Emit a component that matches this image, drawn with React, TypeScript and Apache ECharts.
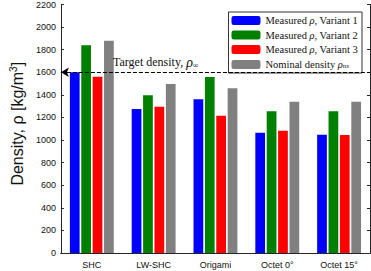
import React, { useEffect, useRef } from "react";
import * as echarts from "echarts";

const categories = ["SHC", "LW-SHC", "Origami", "Octet 0°", "Octet 15°"];
const variant1 = [1600, 1275, 1362, 1065, 1047];
const variant2 = [1840, 1397, 1558, 1256, 1256];
const variant3 = [1560, 1294, 1215, 1083, 1045];
const nominal = [1880, 1496, 1458, 1338, 1338];
const targetDensity = 1600;
const seriesNames = [
  "Measured ρ, Variant 1",
  "Measured ρ, Variant 2",
  "Measured ρ, Variant 3",
  "Nominal density ρns",
];
const colors = ["#0000ff", "#008000", "#ff0000", "#808080"];

const AX = "#262626";
const SERIF = "'Liberation Serif', 'DejaVu Serif', serif";
const SANS = "'Liberation Sans', Arial, sans-serif";

export default function App() {
  const ref = useRef<HTMLDivElement>(null);
  useEffect(() => {
    if (!ref.current) return;
    const chart = echarts.init(ref.current, undefined, { renderer: "svg" });
    const values = [variant1, variant2, variant3, nominal];
    const series: any[] = values.map((v, i) => ({
      name: seriesNames[i],
      type: "bar",
      data: v,
      itemStyle: { color: colors[i] },
      barGap: "17%",
      barCategoryGap: "29%",
      ...(i === 0
        ? {
            markLine: {
              silent: true,
              symbol: ["arrow", "none"],
              symbolSize: [7, 8],
              label: { show: false },
              lineStyle: { color: "#000", type: [4, 2], width: 1.2 },
              data: [{ yAxis: targetDensity }],
              z: 10,
            },
          }
        : {}),
    }));
    const legendRich = {
      t: { fontFamily: SERIF, fontSize: 10.5, color: "#111", lineHeight: 10 },
      i: { fontFamily: SERIF, fontSize: 10.5, fontStyle: "italic", color: "#111", lineHeight: 10 },
      s: { fontFamily: SERIF, fontSize: 7, fontStyle: "italic", color: "#111", lineHeight: 10, verticalAlign: "bottom", padding: [4, 0, 0, 0] },
    };
    chart.setOption({
      animation: false,
      grid: { left: 52, right: 1, top: 3, bottom: 18, containLabel: false },
      legend: {
        orient: "vertical",
        right: 9,
        top: 12,
        padding: [3, 4, 3, 3],
        itemGap: 3.5,
        itemWidth: 29,
        itemHeight: 9,
        borderColor: "#333",
        borderWidth: 1,
        backgroundColor: "#fff",
        selectedMode: false,
        textStyle: { fontFamily: SERIF, fontSize: 10.5, color: "#111", rich: legendRich },
        formatter: (name: string) => {
          if (name.indexOf("Nominal") === 0) return "{t|Nominal density }{i|ρ}{s|ns}";
          const parts = name.split("ρ");
          return `{t|${parts[0]}}{i|ρ}{t|${parts[1]}}`;
        },
        data: seriesNames,
      },
      xAxis: [
        {
          type: "category",
          data: categories,
          axisLine: { lineStyle: { color: AX, width: 1 } },
          axisTick: { inside: true, alignWithLabel: true, length: 3, lineStyle: { color: AX } },
          axisLabel: { fontFamily: SANS, fontSize: 9, color: "#111", margin: 7 },
        },
        {
          type: "category",
          data: categories,
          position: "top",
          axisLine: { lineStyle: { color: AX, width: 1 } },
          axisTick: { inside: true, alignWithLabel: true, length: 3, lineStyle: { color: AX } },
          axisLabel: { show: false },
        },
      ],
      yAxis: [
        {
          type: "value",
          min: 0,
          max: 2200,
          interval: 200,
          name: "Density, ρ [kg/m{sup|3}]",
          nameLocation: "middle",
          nameGap: 28,
          nameTextStyle: {
            fontFamily: SANS,
            fontSize: 16,
            color: "#111",
            padding: [0, 0, 0, 10],
            rich: {
              sup: { fontFamily: SANS, fontSize: 10, color: "#111", verticalAlign: "top", padding: [0, 0, 8, 0] },
            },
          },
          axisLine: { show: true, lineStyle: { color: AX, width: 1 } },
          axisTick: { show: true, inside: true, length: 3, lineStyle: { color: AX } },
          axisLabel: { fontFamily: SANS, fontSize: 9, color: "#111", margin: 5, formatter: (v: number) => String(v) },
          splitLine: { show: false },
        },
        {
          type: "value",
          min: 0,
          max: 2200,
          interval: 200,
          position: "right",
          axisLine: { show: true, lineStyle: { color: AX, width: 1 } },
          axisTick: { show: true, inside: true, length: 3, lineStyle: { color: AX } },
          axisLabel: { show: false },
          splitLine: { show: false },
        },
      ],
      graphic: [
        {
          type: "text",
          left: 113,
          top: 55,
          z: 20,
          style: {
            text: "{a|Target density, }{r|ρ}{s|∞}",
            rich: {
              a: { fontFamily: SERIF, fontSize: 12, fill: "#111", lineHeight: 14 },
              r: { fontFamily: SERIF, fontSize: 14, fontStyle: "italic", fill: "#111", lineHeight: 14 },
              s: { fontFamily: SERIF, fontSize: 8, fill: "#111", lineHeight: 14, verticalAlign: "bottom", padding: [5, 0, 0, 0] },
            },
          },
        },
      ],
      series,
    });
    return () => chart.dispose();
  }, []);
  return <div ref={ref} style={{ width: 371, height: 271, position: "absolute", left: 0, top: 0 }} />;
}
